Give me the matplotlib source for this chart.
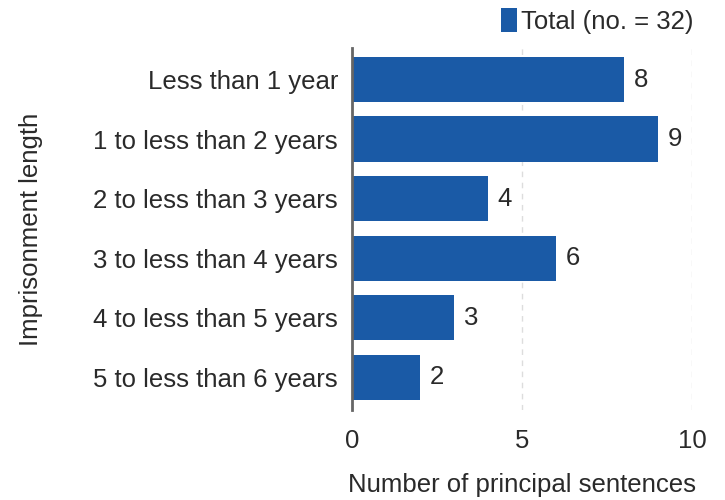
import matplotlib.pyplot as plt

categories = ["Less than 1 year", "1 to less than 2 years", "2 to less than 3 years",
              "3 to less than 4 years", "4 to less than 5 years", "5 to less than 6 years"]
counts = [8, 9, 4, 6, 3, 2]
legend_label = "Total (no. = 32)"

plt.rcParams['font.family'] = ['Liberation Sans', 'DejaVu Sans']
text_col = '#2a2a2a'
bar_col = '#1a5aa6'
fs = 18.5

fig = plt.figure(figsize=(7.25, 5), dpi=100)
ax = fig.add_axes([0.4855, 0.18, 0.469, 0.724])

ypos = list(range(len(categories)))
ax.barh(ypos, counts, height=0.76, color=bar_col, label=legend_label, zorder=3)
for y, v in zip(ypos, counts):
    ax.text(v + 0.28, y, str(v), va='center', ha='left', fontsize=fs, color=text_col)

ax.set_yticks(ypos)
ax.set_yticklabels(categories, fontsize=fs, color=text_col)
ax.set_ylim(len(categories) - 0.45, -0.53)
ax.set_xlim(0, 10)
ax.set_xticks([0, 5, 10])
ax.set_xticklabels(['0', '5', '10'], fontsize=fs, color=text_col)
ax.tick_params(axis='both', length=0)
ax.tick_params(axis='x', pad=14)
ax.tick_params(axis='y', pad=10)

ax.xaxis.grid(True, linestyle=(0, (4, 4)), color='#dddddd', linewidth=1, zorder=0)
for s in ['top', 'right', 'bottom']:
    ax.spines[s].set_visible(False)
ax.spines['left'].set_color('#666666')
ax.spines['left'].set_linewidth(2)
ax.spines['left'].set_zorder(4)

ax.set_xlabel("Number of principal sentences", fontsize=fs, color=text_col, labelpad=14)
ax.set_ylabel("Imprisonment length", fontsize=fs, color=text_col, labelpad=36)

ax.legend(loc='lower right', bbox_to_anchor=(1.045, 1.0), frameon=False, fontsize=fs,
          handlelength=0.6, handleheight=1.1, handletextpad=0.15, borderaxespad=0.15,
          labelcolor=text_col)

fig.savefig('out.png', dpi=100)
